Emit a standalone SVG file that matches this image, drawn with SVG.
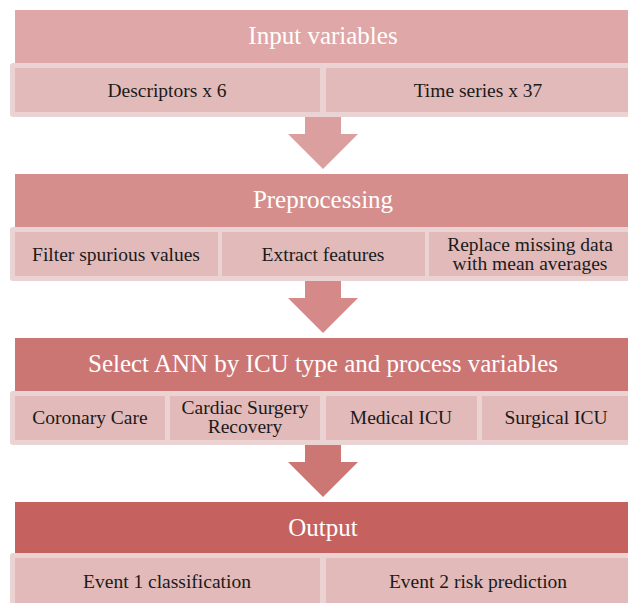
<svg xmlns="http://www.w3.org/2000/svg" width="628" height="603" viewBox="0 0 628 603">
<style>
.hd{font-family:"Liberation Serif","Times New Roman",serif;font-size:25px;fill:#ffffff;text-anchor:middle}
.tx{font-family:"Liberation Serif","Times New Roman",serif;font-size:19.5px;fill:#1a1a1a;text-anchor:middle}
.outer{fill:#ebd3d3}
.cell{fill:#e2baba}
</style>
<rect width="628" height="603" fill="#ffffff"/>
<g id="connectors">
<path d="M305,117 H341 V134 H358 L323,169 L288,134 H305 Z" fill="#db9f9f"/>
<path d="M305,281 H341 V298 H358 L323,333 L288,298 H305 Z" fill="#d58a89"/>
<path d="M305,445 H341 V462 H358 L323,497 L288,462 H305 Z" fill="#cd7775"/>
</g>
<g id="input-variables">
<rect x="15" y="10" width="616" height="53" fill="#dfa7a7"/>
<text class="hd" x="323" y="44">Input variables</text>
</g>
<g id="input-sub">
<rect class="outer" x="10" y="63" width="626" height="54" rx="3"/>
<g id="descriptors"><rect class="cell" x="15" y="68" width="305" height="44"/><text class="tx" x="167" y="97">Descriptors x 6</text></g>
<g id="time-series"><rect class="cell" x="326" y="68" width="305" height="44"/><text class="tx" x="478" y="97">Time series x 37</text></g>
</g>
<g id="preprocessing">
<rect x="15" y="174" width="616" height="53" fill="#d68e8c"/>
<text class="hd" x="323" y="208">Preprocessing</text>
</g>
<g id="preprocessing-sub">
<rect class="outer" x="10" y="227" width="626" height="54" rx="3"/>
<g id="filter"><rect class="cell" x="15" y="232" width="203" height="44"/><text class="tx" x="116" y="261">Filter spurious values</text></g>
<g id="extract"><rect class="cell" x="222" y="232" width="203" height="44"/><text class="tx" x="323" y="261">Extract features</text></g>
<g id="replace"><rect class="cell" x="429" y="232" width="202" height="44"/><text class="tx" x="530" y="251">Replace missing data</text><text class="tx" x="530" y="270">with mean averages</text></g>
</g>
<g id="select-ann">
<rect x="15" y="338" width="616" height="53" fill="#cc7674"/>
<text class="hd" x="323" y="372">Select ANN by ICU type and process variables</text>
</g>
<g id="select-sub">
<rect class="outer" x="10" y="391" width="626" height="54" rx="3"/>
<g id="coronary"><rect class="cell" x="15" y="396" width="150" height="44"/><text class="tx" x="90" y="424">Coronary Care</text></g>
<g id="cardiac"><rect class="cell" x="170" y="396" width="150" height="44"/><text class="tx" x="245" y="414">Cardiac Surgery</text><text class="tx" x="245" y="433">Recovery</text></g>
<g id="medical"><rect class="cell" x="326" y="396" width="151" height="44"/><text class="tx" x="401" y="424">Medical ICU</text></g>
<g id="surgical"><rect class="cell" x="482" y="396" width="149" height="44"/><text class="tx" x="556" y="424">Surgical ICU</text></g>
</g>
<g id="output">
<rect x="15" y="502" width="616" height="51" fill="#c5625f"/>
<text class="hd" x="323" y="536">Output</text>
</g>
<g id="output-sub">
<rect class="outer" x="10" y="553" width="626" height="60" rx="3"/>
<g id="event1"><rect class="cell" x="15" y="558" width="305" height="50"/><text class="tx" x="167" y="588">Event 1 classification</text></g>
<g id="event2"><rect class="cell" x="326" y="558" width="305" height="50"/><text class="tx" x="478" y="588">Event 2 risk prediction</text></g>
</g>
</svg>
